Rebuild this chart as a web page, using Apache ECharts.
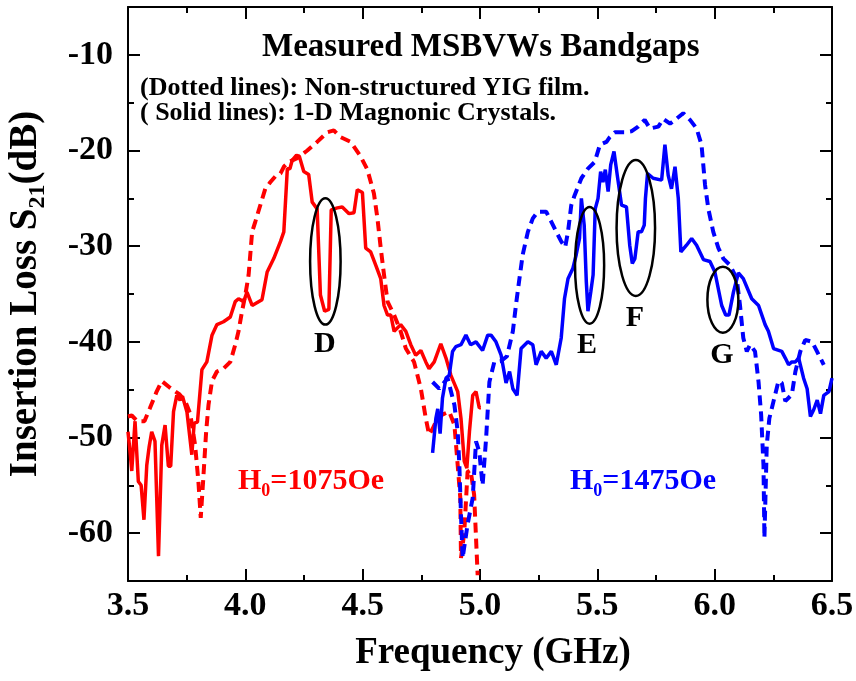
<!DOCTYPE html>
<html>
<head>
<meta charset="utf-8">
<script src="https://cdn.jsdelivr.net/npm/echarts@6/dist/echarts.min.js"></script>
<style>
html, body { margin: 0; padding: 0; background: #fff; }
#chart { width: 856px; height: 681px; }
</style>
</head>
<body>
<div id="chart"></div>
<script>
// [frequency GHz, S21 dB]
var redSolid = [
    [3.500,-49.4],[3.510,-51.8],[3.516,-53.5],[3.530,-48.3],[3.544,-54.6],[3.556,-55.0],[3.568,-58.6],
    [3.580,-52.9],[3.590,-51.0],[3.601,-49.4],[3.615,-50.4],[3.630,-62.4],[3.644,-50.8],[3.658,-48.7],
    [3.672,-53.0],[3.682,-53.0],[3.694,-47.3],[3.708,-45.6],[3.722,-46.1],[3.732,-45.7],[3.751,-47.3],
    [3.772,-51.8],[3.782,-48.5],[3.796,-48.4],[3.815,-42.9],[3.836,-42.1],[3.858,-39.3],[3.879,-38.2],
    [3.907,-37.9],[3.936,-37.4],[3.957,-35.8],[3.971,-35.5],[3.993,-35.8],[4.007,-34.8],[4.029,-36.2],
    [4.071,-35.6],[4.093,-32.7],[4.121,-31.3],[4.150,-29.5],[4.164,-28.5],[4.179,-21.9],[4.190,-21.9],
    [4.200,-21.0],[4.218,-20.5],[4.230,-20.6],[4.249,-22.2],[4.270,-22.5],[4.285,-25.4],[4.306,-26.1],
    [4.320,-35.1],[4.338,-36.8],[4.356,-36.6],[4.366,-26.2],[4.392,-26.0],[4.413,-25.9],[4.442,-26.6],
    [4.463,-26.5],[4.477,-24.1],[4.499,-24.4],[4.513,-30.2],[4.534,-30.6],[4.556,-32.0],[4.577,-33.4],
    [4.591,-36.2],[4.606,-37.2],[4.620,-37.2],[4.634,-38.9],[4.662,-38.2],[4.684,-38.9],[4.705,-40.3],
    [4.726,-41.4],[4.748,-40.9],[4.769,-42.1],[4.783,-42.8],[4.805,-42.1],[4.833,-40.2],[4.855,-41.7],
    [4.876,-43.5],[4.905,-45.2],[4.919,-48.0],[4.933,-52.5],[4.944,-53.2],[4.955,-49.4],[4.969,-45.6],
    [4.983,-45.2],[4.997,-46.9],[5.004,-46.9]
];
var redDotted = [
    [3.500,-47.8],[3.516,-47.7],[3.540,-48.3],[3.570,-48.3],[3.594,-46.9],[3.622,-45.2],[3.644,-44.1],
    [3.679,-44.8],[3.720,-45.5],[3.744,-46.2],[3.765,-47.5],[3.786,-50.8],[3.800,-54.6],[3.810,-58.4],
    [3.820,-54.6],[3.833,-49.4],[3.843,-46.6],[3.858,-44.1],[3.879,-43.1],[3.907,-42.8],[3.936,-42.1],
    [3.957,-40.3],[3.971,-38.9],[3.986,-36.8],[4.000,-35.1],[4.014,-33.0],[4.029,-28.5],[4.043,-27.4],
    [4.064,-25.7],[4.085,-24.0],[4.107,-23.3],[4.128,-22.7],[4.150,-22.4],[4.164,-21.7],[4.185,-21.2],
    [4.221,-20.8],[4.264,-20.0],[4.306,-19.1],[4.349,-18.1],[4.377,-17.9],[4.406,-18.6],[4.449,-19.1],
    [4.491,-20.6],[4.520,-22.0],[4.548,-24.5],[4.563,-27.1],[4.577,-30.2],[4.591,-33.0],[4.606,-35.8],
    [4.634,-37.2],[4.662,-38.9],[4.684,-40.7],[4.719,-42.1],[4.748,-44.9],[4.769,-48.0],[4.783,-49.7],
    [4.798,-49.1],[4.819,-48.0],[4.840,-47.6],[4.869,-47.3],[4.891,-48.7],[4.905,-52.9],[4.916,-56.3],
    [4.919,-62.6],[4.933,-59.9],[4.947,-53.6],[4.960,-53.4],[4.975,-56.0],[4.990,-64.4]
];
var blueSolid = [
    [4.798,-51.6],[4.812,-48.0],[4.820,-47.0],[4.830,-49.6],[4.840,-45.9],[4.855,-43.8],[4.869,-43.5],
    [4.883,-41.0],[4.897,-40.5],[4.919,-40.3],[4.940,-39.3],[4.960,-40.3],[4.983,-40.0],[5.011,-40.9],
    [5.033,-39.3],[5.047,-39.3],[5.068,-40.0],[5.090,-41.4],[5.111,-44.3],[5.126,-43.1],[5.140,-44.9],
    [5.158,-45.6],[5.175,-40.7],[5.204,-40.0],[5.225,-40.3],[5.239,-42.4],[5.261,-41.0],[5.282,-41.7],
    [5.304,-41.0],[5.325,-42.4],[5.346,-39.6],[5.360,-35.5],[5.375,-33.4],[5.396,-32.3],[5.410,-30.9],
    [5.424,-29.2],[5.432,-25.0],[5.444,-27.8],[5.453,-33.7],[5.460,-36.8],[5.472,-34.8],[5.482,-33.0],
    [5.491,-26.1],[5.503,-25.0],[5.514,-22.2],[5.524,-23.3],[5.534,-22.0],[5.546,-24.3],[5.557,-21.5],
    [5.571,-20.1],[5.585,-22.6],[5.603,-25.7],[5.624,-25.9],[5.638,-29.9],[5.649,-31.8],[5.660,-31.3],
    [5.674,-28.5],[5.688,-28.5],[5.700,-27.8],[5.705,-25.0],[5.714,-22.4],[5.738,-22.9],[5.774,-23.1],
    [5.788,-19.4],[5.802,-22.6],[5.816,-24.0],[5.831,-21.7],[5.845,-25.0],[5.856,-30.6],[5.880,-29.9],
    [5.902,-29.2],[5.923,-29.9],[5.952,-31.4],[5.980,-31.6],[6.001,-32.7],[6.030,-36.2],[6.047,-37.2],
    [6.061,-37.2],[6.080,-34.8],[6.101,-32.8],[6.122,-33.4],[6.158,-35.5],[6.187,-36.2],[6.215,-38.2],
    [6.229,-38.9],[6.251,-40.7],[6.286,-41.0],[6.301,-41.7],[6.315,-42.4],[6.329,-42.1],[6.344,-42.1],
    [6.358,-41.7],[6.379,-43.8],[6.394,-44.9],[6.408,-47.8],[6.422,-47.1],[6.437,-46.1],[6.451,-47.5],
    [6.465,-45.6],[6.487,-45.2],[6.500,-43.8]
];
var blueDotted = [
    [4.798,-44.2],[4.826,-44.9],[4.862,-43.8],[4.891,-46.6],[4.905,-49.4],[4.912,-52.9],[4.919,-58.1],
    [4.926,-62.6],[4.947,-59.1],[4.969,-56.3],[4.983,-50.4],[4.997,-51.5],[5.011,-55.0],[5.026,-50.1],
    [5.040,-44.2],[5.061,-42.1],[5.090,-42.0],[5.115,-41.5],[5.140,-38.9],[5.154,-36.0],[5.168,-33.4],
    [5.182,-30.9],[5.204,-28.5],[5.225,-27.1],[5.246,-26.4],[5.282,-26.4],[5.303,-27.4],[5.325,-28.5],
    [5.346,-29.5],[5.363,-30.1],[5.375,-28.5],[5.389,-25.7],[5.403,-24.7],[5.432,-22.9],[5.460,-21.9],
    [5.489,-21.2],[5.511,-19.4],[5.539,-19.1],[5.553,-18.6],[5.574,-18.1],[5.617,-18.1],[5.645,-18.0],
    [5.674,-17.5],[5.702,-16.8],[5.724,-17.7],[5.760,-17.5],[5.781,-16.7],[5.810,-17.2],[5.831,-16.8],
    [5.866,-16.1],[5.895,-16.8],[5.923,-17.7],[5.944,-19.4],[5.959,-23.6],[5.973,-26.1],[5.994,-28.5],
    [6.016,-30.2],[6.037,-31.3],[6.066,-32.0],[6.094,-33.4],[6.108,-36.2],[6.122,-39.6],[6.137,-41.0],
    [6.151,-40.3],[6.172,-41.0],[6.187,-44.2],[6.198,-47.6],[6.208,-52.9],[6.212,-60.5],[6.222,-50.8],
    [6.233,-48.0],[6.251,-46.2],[6.272,-44.1],[6.286,-44.3],[6.301,-46.2],[6.329,-45.5],[6.344,-43.1],
    [6.365,-41.0],[6.386,-39.8],[6.415,-40.0],[6.436,-41.0],[6.465,-42.4]
];

// bandgap marks: centre f, centre dB, half width (GHz), half height (dB)
var gapNames = ['D', 'E', 'F', 'G'];
var gapEllipses = [[4.341, -31.6, 0.065, 6.6], [5.467, -32.0, 0.062, 6.1], [5.664, -28.1, 0.082, 7.1], [6.035, -35.6, 0.066, 3.45]];
var gapLabels = [[4.339, -40.3], [5.456, -40.4], [5.660, -37.5], [6.031, -41.4]];

var yMajor = [-60, -50, -40, -30, -20, -10];

var FONT = 'Liberation Serif';
var black = '#000';

function myChart() {
    var chart = echarts.init(document.getElementById('chart'), null, {renderer: 'canvas'});

    var gapData = gapEllipses.map(function (g, i) {
        return g.concat(gapLabels[i]);
    });

    var tickLine = {color: black, width: 2};
    var gridBox = {left: 128, right: 24, top: 7, bottom: 100, containLabel: false, outerBoundsMode: 'none'};

    var option = {
        backgroundColor: '#fff',
        animation: false,
        title: {
            text: 'Measured MSBVWs Bandgaps',
            left: 257, top: 26,
            textStyle: {fontFamily: FONT, fontWeight: 'bold', fontSize: 33, color: black}
        },
        grid: [
            Object.assign({}, gridBox),
            Object.assign({}, gridBox)
        ],
        xAxis: [{
            type: 'value', gridIndex: 0, position: 'bottom',
            min: 3.5, max: 6.5, interval: 0.5,
            axisLine: {lineStyle: tickLine},
            axisTick: {inside: true, length: 12, lineStyle: tickLine},
            minorTick: {show: true, splitNumber: 2, length: 6, lineStyle: tickLine},
            axisLabel: {
                fontFamily: FONT, fontWeight: 'bold', fontSize: 34, color: black, margin: 8,
                formatter: function (v) { return v.toFixed(1); }
            },
            splitLine: {show: false},
            name: 'Frequency (GHz)', nameLocation: 'middle', nameGap: 54,
            nameTextStyle: {fontFamily: FONT, fontWeight: 'bold', fontSize: 37, color: black, padding: [0, 0, 0, 26]}
        }, {
            type: 'value', gridIndex: 0, position: 'top',
            min: 3.5, max: 6.5, interval: 0.5,
            axisLine: {lineStyle: tickLine},
            axisTick: {inside: true, length: 12, lineStyle: tickLine},
            minorTick: {show: true, splitNumber: 2, length: 6, lineStyle: tickLine},
            axisLabel: {show: false},
            splitLine: {show: false}
        }, {
            type: 'value', gridIndex: 1, show: false, min: 3.5, max: 6.5
        }],
        yAxis: [{
            type: 'value', gridIndex: 0, position: 'left',
            min: -65, max: -5,
            axisLine: {lineStyle: tickLine},
            axisTick: {inside: true, length: 12, lineStyle: tickLine, customValues: yMajor},
            axisLabel: {
                customValues: yMajor,
                fontFamily: FONT, fontWeight: 'bold', fontSize: 34, color: black, margin: 15
            },
            splitLine: {show: false},
            name: '{m|Insertion Loss S}{s|21}{m|(dB)}',
            nameLocation: 'middle', nameRotate: 90, nameGap: 78,
            nameTextStyle: {
                rich: {
                    m: {fontFamily: FONT, fontWeight: 'bold', fontSize: 39, color: black, lineHeight: 44, verticalAlign: 'top'},
                    s: {fontFamily: FONT, fontWeight: 'bold', fontSize: 24, color: black, lineHeight: 24, verticalAlign: 'bottom', padding: [24, 0, 0, 0]}
                }
            }
        }, {
            type: 'value', gridIndex: 0, position: 'right',
            min: -65, max: -5,
            axisLine: {lineStyle: tickLine},
            axisTick: {inside: true, length: 12, lineStyle: tickLine, customValues: yMajor},
            axisLabel: {show: false},
            splitLine: {show: false}
        }, {
            // minor ticks at the odd fives
            type: 'value', gridIndex: 1, position: 'left',
            min: -65, max: -5, interval: 10,
            axisLine: {show: false},
            axisTick: {inside: true, length: 6, lineStyle: tickLine},
            axisLabel: {show: false},
            splitLine: {show: false}
        }, {
            type: 'value', gridIndex: 1, position: 'right',
            min: -65, max: -5, interval: 10,
            axisLine: {show: false},
            axisTick: {inside: true, length: 6, lineStyle: tickLine},
            axisLabel: {show: false},
            splitLine: {show: false}
        }],
        graphic: [{
            type: 'text', left: 140, top: 75,
            style: {text: '(Dotted lines): Non-structured YIG film.', fontFamily: FONT, fontWeight: 'bold', fontSize: 26, fill: black}
        }, {
            type: 'text', left: 140, top: 100,
            style: {text: '( Solid lines): 1-D Magnonic Crystals.', fontFamily: FONT, fontWeight: 'bold', fontSize: 26, fill: black}
        }, {
            type: 'text', left: 238, top: 458,
            style: {
                text: '{m|H}{s|0}{m|=1075Oe}',
                rich: {
                    m: {fontFamily: FONT, fontWeight: 'bold', fontSize: 30, fill: '#ff0000', lineHeight: 34, verticalAlign: 'top'},
                    s: {fontFamily: FONT, fontWeight: 'bold', fontSize: 18, fill: '#ff0000', lineHeight: 18, verticalAlign: 'bottom', padding: [24, 0, 0, 0]}
                }
            }
        }, {
            type: 'text', left: 570, top: 458,
            style: {
                text: '{m|H}{s|0}{m|=1475Oe}',
                rich: {
                    m: {fontFamily: FONT, fontWeight: 'bold', fontSize: 30, fill: '#0000ff', lineHeight: 34, verticalAlign: 'top'},
                    s: {fontFamily: FONT, fontWeight: 'bold', fontSize: 18, fill: '#0000ff', lineHeight: 18, verticalAlign: 'bottom', padding: [24, 0, 0, 0]}
                }
            }
        }],
        series: [{
            type: 'line', name: 'MC 1075', data: redSolid, symbol: 'none',
            lineStyle: {color: '#ff0000', width: 3.5}, z: 3
        }, {
            type: 'line', name: 'YIG 1075', data: redDotted, symbol: 'none',
            lineStyle: {color: '#ff0000', width: 4, type: [10, 6]}, z: 2
        }, {
            type: 'line', name: 'MC 1475', data: blueSolid, symbol: 'none',
            lineStyle: {color: '#0000ff', width: 3.5}, z: 3
        }, {
            type: 'line', name: 'YIG 1475', data: blueDotted, symbol: 'none',
            lineStyle: {color: '#0000ff', width: 4, type: [10, 6]}, z: 2
        }, {
            type: 'custom', name: 'gaps', data: gapData, z: 5,
            renderItem: function (params, api) {
                var c = api.coord([api.value(0), api.value(1)]);
                var e = api.coord([api.value(0) + api.value(2), api.value(1) + api.value(3)]);
                var l = api.coord([api.value(4), api.value(5)]);
                return {
                    type: 'group',
                    children: [{
                        type: 'ellipse',
                        shape: {cx: c[0], cy: c[1], rx: Math.abs(e[0] - c[0]), ry: Math.abs(e[1] - c[1])},
                        style: {fill: 'none', stroke: black, lineWidth: 2.5}
                    }, {
                        type: 'text', x: l[0], y: l[1],
                        style: {
                            text: gapNames[params.dataIndex], fontFamily: FONT, fontWeight: 'bold',
                            fontSize: 30, fill: black, align: 'center', verticalAlign: 'middle'
                        }
                    }]
                };
            }
        }]
    };

    chart.setOption(option);
    window.addEventListener('resize', function () {
        chart.resize();
    });
}
myChart();
</script>
</body>
</html>
